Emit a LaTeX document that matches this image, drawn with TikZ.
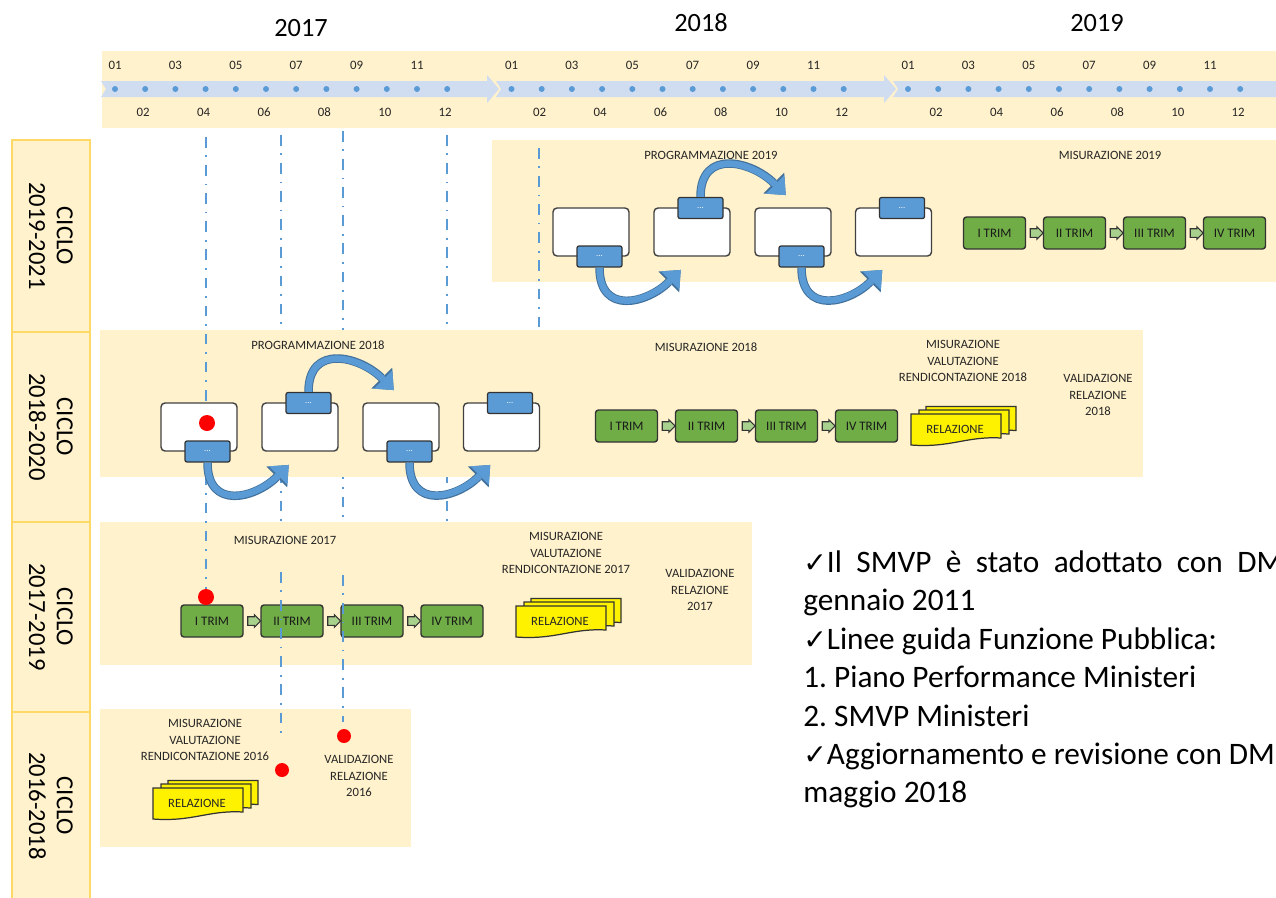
\documentclass[tikz,border=0pt]{standalone}
\usepackage{fontspec}
\setmainfont{Carlito}
\newfontfamily\symfont{DejaVu Sans}
\usepackage{tikz}
\usetikzlibrary{shapes}
\usetikzlibrary{arrows.meta}
\usetikzlibrary{calc}

\definecolor{bandyellow}{HTML}{FFF2CC}
\definecolor{bandedge}{HTML}{FFD966}
\definecolor{lineblue}{HTML}{5B9BD5}
\definecolor{arrowlight}{HTML}{D0DCF0}
\definecolor{blueedge}{HTML}{41719C}
\definecolor{trimgreen}{HTML}{70AD47}
\definecolor{arrowgreen}{HTML}{A9D18E}
\definecolor{labelgray}{HTML}{262626}

\newcommand{\chk}{{\symfont\fontsize{16}{16}\selectfont ✓}}

\tikzset{
  lbl/.style={font=\fontsize{7.2}{9.4}\selectfont, text=labelgray, align=center, inner sep=0pt},
  month/.style={font=\fontsize{7.3}{8}\selectfont, text=labelgray, inner sep=0pt},
  year/.style={font=\fontsize{15}{16}\selectfont, inner sep=0pt},
  ciclo/.style={font=\fontsize{14}{15.8}\selectfont, rotate=-90, align=center, inner sep=0pt},
  colbox/.style={draw=bandedge, fill=bandyellow, line width=0.9pt},
  phasebox/.style={draw=black!75, fill=white, rounded corners=0.8mm, line width=0.8pt,
    minimum width=15.2mm, minimum height=9.6mm, inner sep=0pt},
  tabbox/.style={draw=black!80, fill=lineblue, rounded corners=0.4mm, line width=0.7pt,
    minimum width=9mm, minimum height=4.2mm, inner sep=0pt, text=white,
    font=\fontsize{5}{5}\selectfont},
  trimbox/.style={draw=black!80, fill=trimgreen, rounded corners=0.6mm, line width=0.8pt,
    minimum width=12.4mm, minimum height=6.4mm, inner sep=0pt,
    font=\fontsize{7.4}{8}\selectfont, text=black!90},
  trimarrow/.style={single arrow, draw=black!80, fill=arrowgreen, line width=0.6pt,
    minimum height=2.4mm, single arrow head extend=0.4mm, inner sep=0.75mm},
  cyclearrow/.style={line width=1.3mm, draw=lineblue, shorten >=0.35mm,
    -{Triangle[length=3mm,width=5.2mm,line width=0pt]},
    preaction={draw=blueedge, line width=1.7mm,
      -{Triangle[length=3.4mm,width=5.9mm,line width=0pt]}}},
  guide/.style={draw=lineblue, line width=1.1pt, dash pattern=on 6pt off 4.5pt on 1pt off 4.5pt},
  sheet/.style={draw=black!80, fill=yellow, line width=0.7pt},
  reddot/.style={circle, fill=red, inner sep=0pt, minimum size=3.2mm}
}

\begin{document}
\frenchspacing
\begin{tikzpicture}[x=0.2mm, y=-0.2mm]
  \useasboundingbox (0,0) rectangle (1276,897);
  \clip (0,0) rectangle (1276,897);
  \fill[white] (0,0) rectangle (1276,897);

  % timeline
  \fill[bandyellow] (102,51) rectangle (1280,128);
  \fill[arrowlight] (101,81) -- (487,81) -- (487,75) -- (499,89) -- (487,103) -- (487,97) -- (101,97) -- (106,89) -- cycle;
  \fill[arrowlight] (496,81) -- (884,81) -- (884,75) -- (896,89) -- (884,103) -- (884,97) -- (496,97) -- (501,89) -- cycle;
  \fill[arrowlight] (893,81) -- (1280,81) -- (1280,97) -- (893,97) -- (898,89) -- cycle;
  \node[year] (y2017) at (301,28) {2017};
  \node[year] (y2018) at (701,23) {2018};
  \node[year] (y2019) at (1097,23) {2019};
  \foreach \yr [count=\k from 0] in {2017,2018,2019} {
    \foreach \m in {1,...,12} {
      \pgfmathsetmacro{\mx}{115+396.5*\k+30.2*(\m-1)}
      \fill[lineblue] (\mx,89) circle[radius=0.6mm];
      \ifodd\m \node[month] (m\yr-\m) at (\mx,65) {\ifnum\m<10 0\fi\m};
      \else \node[month] (m\yr-\m) at (\mx-2,112) {\ifnum\m<10 0\fi\m};
      \fi
    }
  }

  % cycles column
  \foreach \ta/\tb/\cyc in {140/332/2019-2021, 332/522/2018-2020, 522/712/2017-2019, 712/900/2016-2018} {
    \draw[colbox] (12,\ta) rectangle (90,\tb);
    \node[ciclo] (ciclo\cyc) at (51,{(\ta+\tb)/2}) {CICLO\\\cyc};
  }

  % guide lines behind the bands
  \draw[guide] (281,135) -- (281,525);
  \draw[guide] (343,131) -- (343,520);
  \draw[guide] (447,135) -- (447,525);

  % bands
  \fill[bandyellow] (492,140) rectangle (1280,282);
  \fill[bandyellow] (100,330) rectangle (1143,477);
  \fill[bandyellow] (100,522) rectangle (752,665);
  \fill[bandyellow] (100,709) rectangle (411,847);

  \draw[guide] (206,137) -- (206,590);
  \draw[guide] (539,148) -- (539,330);

  % titles
  \node[lbl] (prog19) at (711,155) {PROGRAMMAZIONE 2019};
  \node[lbl] (mis19) at (1110,155) {MISURAZIONE 2019};
  \node[lbl] (prog18) at (318,345) {PROGRAMMAZIONE 2018};
  \node[lbl] (mis18) at (706,347) {MISURAZIONE 2018};
  \node[lbl] (mvr18) at (963,361) {MISURAZIONE\\VALUTAZIONE\\RENDICONTAZIONE 2018};
  \node[lbl] (val18) at (1098,395) {VALIDAZIONE\\RELAZIONE\\2018};
  \node[lbl] (mis17) at (285,540) {MISURAZIONE 2017};
  \node[lbl] (mvr17) at (566,553) {MISURAZIONE\\VALUTAZIONE\\RENDICONTAZIONE 2017};
  \node[lbl] (val17) at (700,590) {VALIDAZIONE\\RELAZIONE\\2017};
  \node[lbl] (mvr16) at (205,740) {MISURAZIONE\\VALUTAZIONE\\RENDICONTAZIONE 2016};
  \node[lbl] (val16) at (359,776) {VALIDAZIONE\\RELAZIONE\\2016};

  % programmazione
  \foreach \r/\dx/\up in {18/0/0, 19/392/195} {
    \node[phasebox] (box\r-1) at (199+\dx,427-\up) {};
    \node[phasebox] (box\r-2) at (300+\dx,427-\up) {};
    \node[phasebox] (box\r-3) at (401+\dx,427-\up) {};
    \node[phasebox] (box\r-4) at (501.5+\dx,427-\up) {};
    \node[tabbox] (tab\r-1) at (207.5+\dx,451.5-\up) {...};
    \node[tabbox] (tab\r-2) at (308.5+\dx,403-\up) {...};
    \node[tabbox] (tab\r-3) at (409.5+\dx,451.5-\up) {...};
    \node[tabbox] (tab\r-4) at (510+\dx,403-\up) {...};
    \draw[cyclearrow] (tab\r-1.south) to[out=270,in=225,looseness=1.5] ($(box\r-2.south)+(-10,12)$);
    \draw[cyclearrow] (tab\r-2.north) to[out=90,in=135,looseness=1.45] ($(box\r-3.north)+(-6,-11)$);
    \draw[cyclearrow] (tab\r-3.south) to[out=270,in=225,looseness=1.5] ($(box\r-4.south)+(-10,12)$);
  }

  % misurazione
  \foreach \r/\sx/\sy in {19/994.5/233, 18/626.5/426, 17/212/621} {
    \foreach \lab [count=\k] in {I TRIM, II TRIM, III TRIM, IV TRIM}
      \node[trimbox] (trim\r-\k) at ({\sx+80*(\k-1)},\sy) {\lab};
    \foreach \k [evaluate=\k as \n using int(\k+1)] in {1,2,3}
      \node[trimarrow] (go\r-\k) at ($(trim\r-\k.east)!0.5!(trim\r-\n.west)$) {};
  }

  % relazione
  \foreach \r/\sx/\sy in {16/153/788, 17/516/606, 18/911/414} {
    \foreach \o in {15,8,0} {
      \pgfmathsetmacro{\xa}{\sx+\o}
      \pgfmathsetmacro{\ya}{\sy-\o/2}
      \filldraw[sheet] (\xa,\ya) -- (\xa+90,\ya) -- (\xa+90,\ya+24)
        .. controls (\xa+55,\ya+22) and (\xa+40,\ya+34) .. (\xa,\ya+31) -- cycle;
    }
    \node[lbl, text=black!85] (rel\r) at (\sx+44,\sy+15) {RELAZIONE};
  }

  \draw[guide] (281,572) -- (281,736);
  \draw[guide] (343,575) -- (343,722);

  \node[reddot] (dot18) at (207,423) {};
  \node[reddot] (dot17) at (206,597) {};
  \node[reddot, minimum size=2.8mm] (dot16a) at (282,770) {};
  \node[reddot, minimum size=2.8mm] (dot16b) at (344,736) {};

  % notes
  \node[anchor=north west, align=left, inner sep=0pt, font=\fontsize{17.8}{21.9}\selectfont] (notes) at (803,550)
    {\makebox[9.6cm][s]{\chk Il SMVP è stato adottato con DM}\\
     gennaio 2011\\
     \chk Linee guida Funzione Pubblica:\\
     1. Piano Performance Ministeri\\
     2. SMVP Ministeri\\
     \chk Aggiornamento e revisione con DM\\
     maggio 2018};
\end{tikzpicture}
\end{document}
